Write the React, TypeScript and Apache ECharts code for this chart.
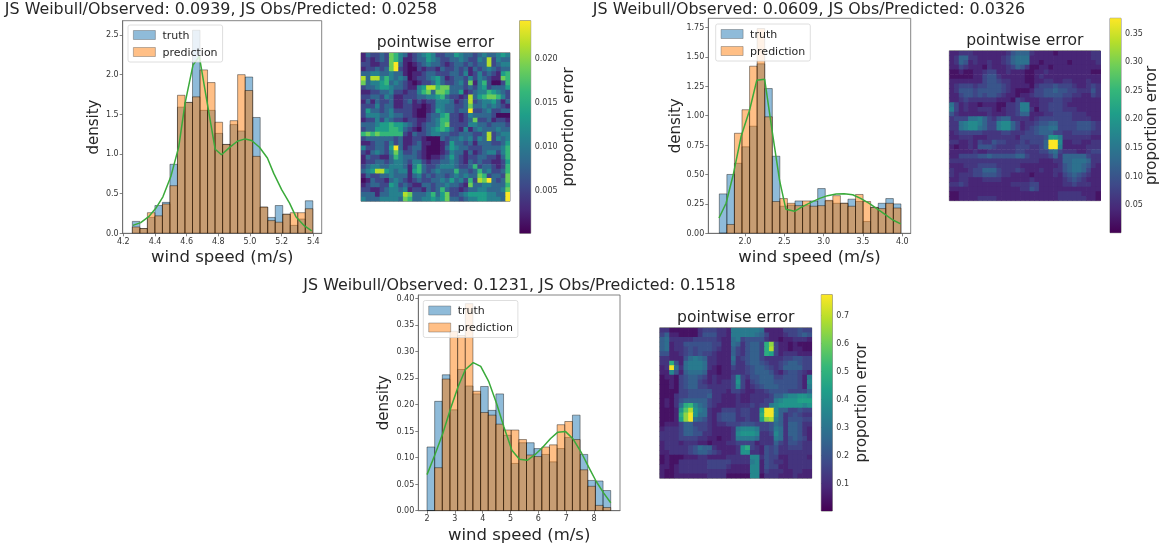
import React, { useEffect, useRef } from "react";
import * as echarts from "echarts";

const FONT = "DejaVu Sans";
const INK = "#333333";
const SPINE = "#666666";
const VIRIDIS = ["#440154", "#482878", "#3e4989", "#31688e", "#26828e", "#1f9e89", "#35b779", "#6ece58", "#b5de2b", "#fde725"];

const titles = [
  "JS Weibull/Observed: 0.0939, JS Obs/Predicted: 0.0258",
  "JS Weibull/Observed: 0.0609, JS Obs/Predicted: 0.0326",
  "JS Weibull/Observed: 0.1231, JS Obs/Predicted: 0.1518",
];

const truth1 = [0.15, 0.06, 0.2, 0.35, 0.39, 0.87, 1.59, 1.65, 2.56, 1.55, 1.55, 1.26, 1.12, 1.37, 1.29, 1.97, 1.46, 0.33, 0.2, 0.35, 0.24, 0.1, 0.18, 0.41];
const pred1 = [0.08, 0.06, 0.26, 0.22, 0.37, 0.6, 1.74, 1.65, 1.72, 2.06, 1.9, 1.4, 1.12, 1.42, 2.0, 1.8, 0.97, 0.33, 0.16, 0.14, 0.24, 0.26, 0.26, 0.31];
const kdeX1 = [4.26, 4.31, 4.36, 4.405, 4.45, 4.5, 4.55, 4.59, 4.64, 4.68, 4.73, 4.78, 4.82, 4.87, 4.92, 4.97, 5.01, 5.06, 5.11, 5.15, 5.2, 5.25, 5.29, 5.34, 5.39];
const kdeY1 = [0.1, 0.135, 0.21, 0.315, 0.46, 0.715, 1.09, 1.64, 2.12, 2.23, 1.64, 1.06, 0.99, 1.08, 1.16, 1.19, 1.17, 1.085, 0.95, 0.755, 0.55, 0.38, 0.21, 0.1, 0.03];
const xTicks1 = [4.2, 4.4, 4.6, 4.8, 5.0, 5.2, 5.4];
const yTicks1 = [0, 0.5, 1.0, 1.5, 2.0, 2.5];

const truth2 = [0.335, 0.5, 0.595, 0.735, 0.91, 1.44, 1.23, 0.655, 0.23, 0.24, 0.275, 0.235, 0.275, 0.38, 0.275, 0.255, 0.255, 0.29, 0.27, 0.1, 0.22, 0.255, 0.295, 0.25];
const pred2 = [0, 0.075, 0.85, 1.05, 1.42, 1.74, 0.99, 0.27, 0.295, 0.255, 0.235, 0.275, 0.23, 0.235, 0.28, 0.32, 0.255, 0.23, 0.33, 0.27, 0.22, 0.21, 0.255, 0.215];
const kdeX2 = [1.67, 1.76, 1.85, 1.95, 2.06, 2.15, 2.25, 2.35, 2.44, 2.52, 2.63, 2.73, 2.84, 2.95, 3.05, 3.16, 3.26, 3.37, 3.47, 3.58, 3.69, 3.79, 3.88, 3.98];
const kdeY2 = [0.13, 0.255, 0.495, 0.82, 1.05, 1.3, 1.31, 0.85, 0.45, 0.205, 0.187, 0.227, 0.263, 0.297, 0.32, 0.334, 0.337, 0.328, 0.297, 0.255, 0.204, 0.156, 0.113, 0.08];
const xTicks2 = [2.0, 2.5, 3.0, 3.5, 4.0];
const yTicks2 = [0, 0.25, 0.5, 0.75, 1.0, 1.25, 1.5, 1.75];

const truth3 = [0.12, 0.206, 0.256, 0.19, 0.266, 0.235, 0.22, 0.234, 0.189, 0.22, 0.142, 0.089, 0.128, 0.128, 0.117, 0.106, 0.092, 0.117, 0.138, 0.18, 0.106, 0.057, 0.056, 0.038];
const pred3 = [0, 0.081, 0.248, 0.338, 0.33, 0.39, 0.225, 0.185, 0.18, 0.163, 0.152, 0.152, 0.134, 0.105, 0.102, 0.12, 0.124, 0.162, 0.168, 0.134, 0.077, 0.046, 0.01, 0.006];
const kdeX3 = [2.0, 2.28, 2.57, 2.85, 3.12, 3.38, 3.66, 3.93, 4.22, 4.5, 4.76, 5.05, 5.32, 5.6, 5.87, 6.15, 6.44, 6.7, 6.98, 7.25, 7.53, 7.8, 8.08, 8.35, 8.6];
const kdeY3 = [0.068, 0.105, 0.146, 0.193, 0.234, 0.266, 0.279, 0.272, 0.243, 0.202, 0.158, 0.114, 0.097, 0.095, 0.105, 0.119, 0.136, 0.148, 0.149, 0.135, 0.111, 0.083, 0.055, 0.033, 0.015];
const xTicks3 = [2, 3, 4, 5, 6, 7, 8];
const yTicks3 = [0, 0.05, 0.1, 0.15, 0.2, 0.25, 0.3, 0.35, 0.4];

// heat rows: one base-36 character per cell, in steps of the map's unit
const heatRows1 = [
  "13223276 43123454 22335433 23433454", "12123276 41123354 32233432 24382433", "22112279 31012343 32123323 23382344", "12232379 21002122 13223231 32343233",
  "33443343 31011233 22233241 24232156", "83884643 43012234 53123324 24321176", "73445634 32101223 53223427 14620026", "23345543 32114588 67733323 24523335",
  "11223342 21224673 77633512 34465432", "22332431 12223344 56322128 35677642", "13132231 12312122 44431238 23445313", "22242331 12211012 44332237 33434321",
  "25332342 22210012 54332339 22342233", "24443343 32210023 35622124 33332000", "12242432 21221123 46622123 72231221", "33345565 54321233 46722224 43323332",
  "23355566 53210234 56532141 34333433", "67676666 62132234 43322333 22382344", "23333332 31122100 03233434 24382434", "11233242 31123110 01253323 13332235",
  "42233259 31233100 01354332 22333346", "21343247 42232100 01243313 12344246", "13221136 43332101 12353212 23322136", "12233234 43244212 23343213 23221125",
  "23443344 43146322 34443223 62332126", "34588543 44156323 43336332 36342236", "13223343 33134232 33234343 37623327", "01322134 32123223 34353426 28793237",
  "12332254 23211332 33433217 33443336", "22112344 34122132 36322123 34433347", "33313344 48733346 35722345 55544339", "43334444 37633445 45733234 45544439",
];
const heatRows2 = [
  "22333222 22223566 63222212 22222233", "23663322 22234677 72222222 22222233", "23652322 32234677 72212222 21222223", "22432221 32223465 31122122 22222222",
  "11211223 44223222 11223222 22222211", "11111224 55322222 11232222 22222222", "22222224 55433222 11223322 33222322", "23444344 55543222 21344454 44322343",
  "23555455 55543211 12445565 54433353", "22455454 55432212 23445555 44332243", "22343333 33222143 22233344 33222222", "74232212 22113348 82233444 32222222",
  "84232233 32123348 83133444 33322222", "53222222 32223346 62223344 44333222", "34447786 43566333 32344444 44333322", "33789986 44899642 33455664 44455543",
  "33789976 44899642 34566774 44455543", "23444443 33344333 44566644 33444433", "22333222 33333324 44445aa8 33333322", "33223243 35443334 34446jj9 22332233",
  "21223255 54333344 43346jj8 22222333", "22222322 33333344 33344674 33322344", "22444455 65555566 43333463 66666433", "33333333 33333333 33322233 66777633",
  "22233344 44333332 22222223 56776532", "32223446 66433343 22232233 56776422", "32333445 55433222 21222232 45654322", "22332223 33322222 23222222 34543222",
  "33432222 22222333 34422222 33433322", "22222222 22222223 35422222 22222222", "11222222 22222222 22222223 33332221", "11222233 33222222 22222223 33333221",
];
const heatRows3 = [
  "33111111 34443328 88888722 22444544", "46221111 35553328 88887642 22344565", "67333334 44443227 84555532 21223332", "67233555 55544227 635664cg 42212111",
  "67233454 55543226 435664ch 42212211", "55223454 54432226 435664cb 42333222", "33222578 76332227 34566433 33445544", "33c52788 87332226 33566543 34566544",
  "23j73788 87321224 33456654 34666644", "22952677 76221223 33456665 32455432", "12214566 54232224 94355666 44555428", "11214566 43232334 a4245666 55555429",
  "11214566 44333334 94234566 65555428", "11114455 55533324 43223345 55544446", "11134455 55633222 32233334 66899aa9", "12135666 66433222 32233344 89aaabbb",
  "12137cd9 76432222 33343448 9aaaaa9a", "1112aeha 87322444 34433bjj 96644544", "1112cgja 77324555 34433cjj 96345433", "1112bgj7 65324555 33433bgh 86355544",
  "12224664 44323344 45554445 76366533", "23334665 44322223 89998445 87366532", "33334665 53322223 9aaa9334 97366532", "33334444 33221223 88887333 87356542",
  "23332333 22122233 44442333 64355433", "23333345 76632222 3ac43254 53344433", "22333345 66543222 3aa33254 53333333", "12111222 33222233 33399354 42233332",
  "12113333 33444443 33389254 33233333", "22123333 33444432 22299254 42233333", "21123333 33333322 22299243 33223322", "21122222 22333311 11199133 32223222",
];
const cbTicks1 = [0.005, 0.01, 0.015, 0.02];
const cbTicks2 = [0.05, 0.1, 0.15, 0.2, 0.25, 0.3, 0.35];
const cbTicks3 = [0.1, 0.2, 0.3, 0.4, 0.5, 0.6, 0.7];

const panels = [
  {
    title: titles[0], titleX: 221, titleY: 8.5,
    truth: truth1, pred: pred1, kdeX: kdeX1, kdeY: kdeY1, xTicks: xTicks1, yTicks: yTicks1, xDec: 1, yDec: 1, densityGap: 22,
    binStart: 4.257, binWidth: 0.0475,
    hist: { left: 122.7, top: 20.7, width: 199, height: 212.6 }, xRange: [4.196, 5.453], yMax: 2.68,
    legend: { left: 128, top: 25 },
    heatRows: heatRows1, unit: 0.0027,
    heat: { left: 361, top: 52.7, width: 149, height: 148.6 }, heatTitleY: 42,
    cb: { left: 519.7, top: 20.7, width: 11, height: 212.6 }, cbRange: [0.00005, 0.02438], cbTicks: cbTicks1, cbDec: 3, cbGap: 30,
  },
  {
    title: titles[1], titleX: 809, titleY: 8.5,
    truth: truth2, pred: pred2, kdeX: kdeX2, kdeY: kdeY2, xTicks: xTicks2, yTicks: yTicks2, xDec: 1, yDec: 2, densityGap: 26,
    binStart: 1.674, binWidth: 0.0962,
    hist: { left: 708.3, top: 18.3, width: 202.4, height: 215 }, xRange: [1.534, 4.107], yMax: 1.827,
    legend: { left: 715.7, top: 24 },
    heatRows: heatRows2, unit: 0.02,
    heat: { left: 949.3, top: 50.7, width: 151, height: 150 }, heatTitleY: 40,
    cb: { left: 1110, top: 18.3, width: 11, height: 214.4 }, cbRange: [0.001, 0.376], cbTicks: cbTicks2, cbDec: 2, cbGap: 22,
  },
  {
    title: titles[2], titleX: 519.5, titleY: 284,
    truth: truth3, pred: pred3, kdeX: kdeX3, kdeY: kdeY3, xTicks: xTicks3, yTicks: yTicks3, xDec: 0, yDec: 2, densityGap: 28,
    binStart: 2.0, binWidth: 0.275,
    hist: { left: 418.3, top: 295, width: 201.7, height: 215.7 }, xRange: [1.687, 8.934], yMax: 0.4063,
    legend: { left: 423.3, top: 300.5 },
    heatRows: heatRows3, unit: 0.04,
    heat: { left: 659.7, top: 327.7, width: 152, height: 150.6 }, heatTitleY: 317,
    cb: { left: 821.3, top: 294.7, width: 11, height: 216.3 }, cbRange: [0.003, 0.7725], cbTicks: cbTicks3, cbDec: 1, cbGap: 21,
  },
];

function makeOption() {
  const grid: any[] = [];
  const xAxis: any[] = [];
  const yAxis: any[] = [];
  const series: any[] = [];
  const legend: any[] = [];
  const visualMap: any[] = [];
  const graphic: any[] = [];

  const frame = { show: true, borderColor: SPINE, borderWidth: 0.8, backgroundColor: "transparent", outerBoundsMode: "none", containLabel: false };
  const text = (t: string, x: number, y: number, size: number) => ({
    type: "text", x, y, z: 10,
    style: { text: t, fontFamily: FONT, fontSize: size, fill: "#262626", align: "center", verticalAlign: "middle" },
  });

  for (const p of panels) {
    graphic.push(text(p.title, p.titleX, p.titleY, 15.9));
    graphic.push(text("pointwise error", p.heat.left + p.heat.width / 2, p.heatTitleY, 15.6));

    // histogram
    const g = grid.length;
    grid.push({ ...p.hist, ...frame });
    xAxis.push({
      type: "value", gridIndex: g, min: p.xRange[0], max: p.xRange[1], splitLine: { show: false },
      axisLine: { show: true, onZero: false, lineStyle: { color: SPINE, width: 0.8 } },
      axisTick: { show: true, length: 3, customValues: p.xTicks, lineStyle: { color: SPINE, width: 0.8 } },
      axisLabel: { customValues: p.xTicks, margin: 4, fontSize: 8, color: INK, fontFamily: FONT, formatter: (v: number) => v.toFixed(p.xDec) },
      name: "wind speed (m/s)", nameLocation: "middle", nameGap: 15,
      nameTextStyle: { fontFamily: FONT, fontSize: 16.5, color: "#262626" },
    });
    yAxis.push({
      type: "value", gridIndex: g, min: 0, max: p.yMax, splitLine: { show: false },
      axisLine: { show: true, lineStyle: { color: SPINE, width: 0.8 } },
      axisTick: { show: true, length: 3, customValues: p.yTicks, lineStyle: { color: SPINE, width: 0.8 } },
      axisLabel: { customValues: p.yTicks, margin: 4, fontSize: 8, color: INK, fontFamily: FONT, formatter: (v: number) => v.toFixed(p.yDec) },
      name: "density", nameLocation: "middle", nameGap: p.densityGap, nameRotate: 90,
      nameTextStyle: { fontFamily: FONT, fontSize: 15, color: "#262626" },
    });
    const bars = (name: string, values: number[], fill: string) => ({
      type: "custom", name, xAxisIndex: g, yAxisIndex: g, coordinateSystem: "cartesian2d", clip: true, z: 2,
      encode: { x: [0, 1], y: 2 },
      itemStyle: { color: fill, opacity: 0.5, borderColor: "#000", borderWidth: 0.8 },
      data: values.map((v, i) => [p.binStart + i * p.binWidth, p.binStart + (i + 1) * p.binWidth, v]),
      renderItem: (_: any, api: any) => {
        const a = api.coord([api.value(0), api.value(2)]);
        const b = api.coord([api.value(1), 0]);
        return {
          type: "rect",
          shape: { x: a[0], y: a[1], width: b[0] - a[0], height: b[1] - a[1] },
          style: { fill, stroke: "#000", lineWidth: 0.8, opacity: 0.5 },
        };
      },
    });
    series.push(bars("truth", p.truth, "#1f77b4"));
    series.push(bars("prediction", p.pred, "#ff7f0e"));
    series.push({
      type: "line", name: "kde", xAxisIndex: g, yAxisIndex: g, symbol: "none", z: 3, silent: true,
      lineStyle: { color: "#3aaa3a", width: 1.5 },
      data: p.kdeX.map((x, i) => [x, p.kdeY[i]]),
    });
    legend.push({
      left: p.legend.left, top: p.legend.top, orient: "vertical", data: ["truth", "prediction"], selectedMode: false,
      icon: "rect", itemWidth: 22, itemHeight: 9, itemGap: 6, padding: [4.5, 5, 4.5, 5],
      itemStyle: { borderColor: "#555", borderWidth: 0.8 },
      backgroundColor: "rgba(255,255,255,0.8)", borderColor: "#d5d5d5", borderWidth: 0.8, borderRadius: 2,
      textStyle: { fontFamily: FONT, fontSize: 11, color: "#262626", padding: [0, 0, 0, 2] },
    });

    // heat map
    const h = grid.length;
    const cells = Array.from({ length: 32 }, (_, i) => String(i));
    grid.push({ ...p.heat, ...frame });
    xAxis.push({ type: "category", gridIndex: h, data: cells, show: false });
    yAxis.push({ type: "category", gridIndex: h, data: cells, show: false, inverse: true });
    const heatData: number[][] = [];
    p.heatRows.forEach((row, r) => {
      row.replace(/ /g, "").split("").forEach((ch, c) => {
        heatData.push([c, r, Math.max(parseInt(ch, 36), 0.3) * p.unit]);
      });
    });
    visualMap.push({
      show: false, type: "continuous", seriesIndex: series.length, dimension: 2,
      min: p.cbRange[0], max: p.cbRange[1], inRange: { color: VIRIDIS },
    });
    series.push({
      type: "custom", name: "pointwise error", xAxisIndex: h, yAxisIndex: h, coordinateSystem: "cartesian2d", z: 2,
      clip: true, encode: { x: 0, y: 1 }, data: heatData,
      renderItem: (_: any, api: any) => {
        const centre = api.coord([api.value(0), api.value(1)]);
        const size = api.size([1, 1]);
        const color = api.visual("color");
        return {
          type: "rect",
          shape: { x: centre[0] - size[0] / 2, y: centre[1] - size[1] / 2, width: size[0] + 0.7, height: size[1] + 0.7 },
          style: { fill: color },
        };
      },
    });

    // colour bar
    const c = grid.length;
    grid.push({ ...p.cb, ...frame });
    xAxis.push({ type: "value", gridIndex: c, min: 0, max: 1, show: false });
    yAxis.push({
      type: "value", gridIndex: c, position: "right", min: p.cbRange[0], max: p.cbRange[1], splitLine: { show: false },
      axisLine: { show: false },
      axisTick: { show: true, length: 3, customValues: p.cbTicks, lineStyle: { color: SPINE, width: 0.8 } },
      axisLabel: { customValues: p.cbTicks, margin: 4, fontSize: 8, color: INK, fontFamily: FONT, formatter: (v: number) => v.toFixed(p.cbDec) },
      name: "proportion error", nameLocation: "middle", nameGap: p.cbGap, nameRotate: 90, nameMoveOverlap: false,
      nameTextStyle: { fontFamily: FONT, fontSize: 15, color: "#262626" },
    });
    series.push({
      type: "custom", name: "colour bar", xAxisIndex: c, yAxisIndex: c, coordinateSystem: "cartesian2d", z: 1,
      encode: { y: [0, 1] }, data: [[p.cbRange[0], p.cbRange[1]]],
      renderItem: (_: any, api: any) => {
        const a = api.coord([0, api.value(1)]);
        const b = api.coord([1, api.value(0)]);
        return {
          type: "rect",
          shape: { x: a[0], y: a[1], width: b[0] - a[0], height: b[1] - a[1] },
          style: {
            fill: new echarts.graphic.LinearGradient(0, 1, 0, 0,
              VIRIDIS.map((color, i) => ({ offset: i / (VIRIDIS.length - 1), color }))),
          },
        };
      },
    });
  }

  return { animation: false, backgroundColor: "#ffffff", grid, xAxis, yAxis, series, legend, visualMap, graphic };
}

export default function App() {
  const ref = useRef<HTMLDivElement>(null);
  useEffect(() => {
    const chart = echarts.init(ref.current!, undefined, { renderer: "svg" });
    chart.setOption(makeOption() as any);
    return () => chart.dispose();
  }, []);
  return <div ref={ref} style={{ position: "absolute", left: 0, top: 0, width: 1161, height: 548, filter: "blur(0.4px)" }} />;
}
